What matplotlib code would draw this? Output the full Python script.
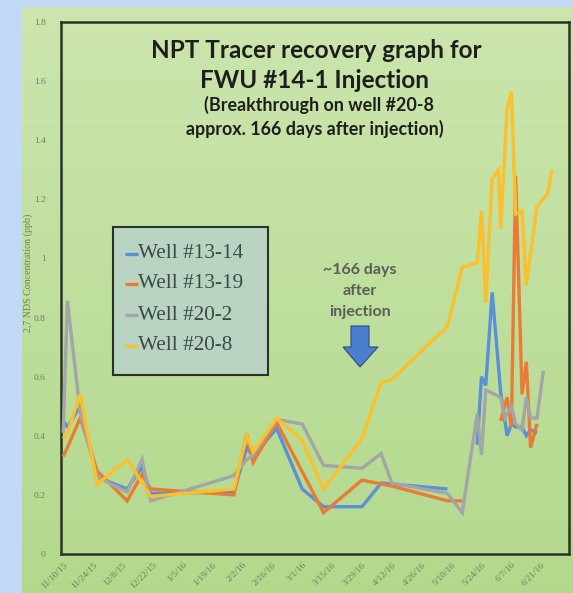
import numpy as np
import pandas as pd
import matplotlib
matplotlib.use("Agg")
import matplotlib.pyplot as plt
from matplotlib.patches import Polygon, Rectangle
from matplotlib.lines import Line2D

# ---- data -------------------------------------------------------------
dates_1314 = ["2015-11-10", "2015-11-12", "2015-11-18", "2015-11-26", "2015-12-10",
              "2015-12-17", "2015-12-21", "2016-01-29", "2016-02-04", "2016-02-07",
              "2016-02-18", "2016-03-01", "2016-03-11", "2016-03-29", "2016-04-07",
              "2016-05-08", "2016-05-15", "2016-05-22", "2016-05-24", "2016-05-26",
              "2016-05-29", "2016-06-02", "2016-06-05", "2016-06-07", "2016-06-09",
              "2016-06-12", "2016-06-14", "2016-06-16", "2016-06-19"]
well_1314 = [0.45, 0.43, 0.50, 0.26, 0.22, 0.295, 0.205, 0.21, 0.36, 0.33,
             0.425, 0.22, 0.16, 0.16, 0.24, 0.22, np.nan, 0.37, 0.60, 0.57,
             0.885, 0.545, 0.40, 0.44, 0.43, 0.43, 0.40, 0.42, 0.41]

dates_1319 = ["2015-11-10", "2015-11-12", "2015-11-18", "2015-11-26", "2015-12-10",
              "2015-12-17", "2015-12-21", "2016-01-29", "2016-02-04", "2016-02-07",
              "2016-02-18", "2016-03-11", "2016-03-29", "2016-04-12", "2016-05-08",
              "2016-05-15", "2016-05-25", "2016-06-02", "2016-06-05", "2016-06-07",
              "2016-06-09", "2016-06-12", "2016-06-14", "2016-06-16", "2016-06-19"]
well_1319 = [0.33, 0.36, 0.46, 0.28, 0.18, 0.27, 0.22, 0.20, 0.405, 0.31,
             0.445, 0.14, 0.25, 0.23, 0.18, 0.18, np.nan, 0.45, 0.53, 0.43,
             1.28, 0.54, 0.65, 0.36, 0.44]

dates_202 = ["2015-11-10", "2015-11-12", "2015-11-18", "2015-11-26", "2015-12-10",
             "2015-12-17", "2015-12-21", "2016-01-29", "2016-02-04", "2016-02-07",
             "2016-02-18", "2016-03-01", "2016-03-11", "2016-03-29", "2016-04-07",
             "2016-04-12", "2016-05-08", "2016-05-15", "2016-05-22", "2016-05-24",
             "2016-05-26", "2016-06-02", "2016-06-04", "2016-06-07", "2016-06-09",
             "2016-06-12", "2016-06-14", "2016-06-16", "2016-06-19", "2016-06-22"]
well_202 = [0.41, 0.856, 0.48, 0.26, 0.21, 0.32, 0.18, 0.265, 0.32, 0.335,
            0.455, 0.44, 0.30, 0.29, 0.34, 0.24, 0.205, 0.14, 0.475, 0.335,
            0.555, 0.53, 0.46, 0.50, 0.44, 0.42, 0.53, 0.46, 0.46, 0.62]

dates_208 = ["2015-11-10", "2015-11-12", "2015-11-18", "2015-11-26", "2015-12-10",
             "2015-12-21", "2016-01-29", "2016-02-04", "2016-02-07", "2016-02-18",
             "2016-03-01", "2016-03-11", "2016-03-29", "2016-04-07", "2016-04-12",
             "2016-05-08", "2016-05-15", "2016-05-22", "2016-05-24", "2016-05-26",
             "2016-05-29", "2016-06-01", "2016-06-02", "2016-06-05", "2016-06-07",
             "2016-06-09", "2016-06-12", "2016-06-14", "2016-06-19", "2016-06-24",
             "2016-06-26"]
well_208 = [0.39, 0.41, 0.54, 0.235, 0.32, 0.195, 0.22, 0.40, 0.345, 0.46,
            0.385, 0.22, 0.39, 0.58, 0.59, 0.77, 0.97, 0.985, 1.16, 0.85,
            1.27, 1.30, 1.10, 1.51, 1.565, 1.15, 1.16, 0.91, 1.175, 1.22,
            1.30]

series_names = ["Well #13-14", "Well #13-19", "Well #20-2", "Well #20-8"]
series_colors = ["#5B8FD8", "#EA7B34", "#A3A5A8", "#FBC02A"]

tick_dates = ["2015-11-10", "2015-11-24", "2015-12-08", "2015-12-22", "2016-01-05",
              "2016-01-19", "2016-02-02", "2016-02-16", "2016-03-01", "2016-03-15",
              "2016-03-29", "2016-04-12", "2016-04-26", "2016-05-10", "2016-05-24",
              "2016-06-07", "2016-06-21"]
tick_labels = ["11/10/15", "11/24/15", "12/8/15", "12/22/15", "1/5/16", "1/19/16",
               "2/2/16", "2/16/16", "3/1/16", "3/15/16", "3/29/16", "4/12/16",
               "4/26/16", "5/10/16", "5/24/16", "6/7/16", "6/21/16"]
y_ticks = [0, 0.2, 0.4, 0.6, 0.8, 1, 1.2, 1.4, 1.6, 1.8]
y_tick_labels = ["0", "0.2", "0.4", "0.6", "0.8", "1", "1.2", "1.4", "1.6", "1.8"]

# ---- figure & background ---------------------------------------------
W, H = 573, 593
fig = plt.figure(figsize=(W / 100, H / 100), dpi=100)
fig.patch.set_facecolor("#c2d9f5")

def fx(px):
    return px / W

def fy(py):
    return 1 - py / H

bg = fig.add_axes([fx(22), 0, 1 - fx(22), fy(7)])
grad = np.linspace(0, 1, 256)[:, None]
top = np.array([0.80, 0.90, 0.68])
bot = np.array([0.70, 0.85, 0.55])
img = top[None, None, :] * (1 - grad[:, :, None]) + bot[None, None, :] * grad[:, :, None]
bg.imshow(img, aspect="auto", extent=[0, 1, 0, 1], origin="upper")
bg.set_axis_off()

ax = fig.add_axes([fx(61), fy(554), fx(569) - fx(61), fy(22) - fy(554)])
ax.set_facecolor("none")

all_dates = [dates_1314, dates_1319, dates_202, dates_208]
all_vals = [well_1314, well_1319, well_202, well_208]
for d, v, c in zip(all_dates, all_vals, series_colors):
    ax.plot(pd.to_datetime(d), v, color=c, lw=2.4, solid_joinstyle="miter",
            solid_capstyle="butt", zorder=3)

ax.set_xlim(pd.Timestamp("2015-11-09"), pd.Timestamp("2016-07-04"))
ax.set_ylim(0, 1.8)
ax.set_xticks(pd.to_datetime(tick_dates))
ax.set_xticklabels(tick_labels, rotation=45, ha="right", va="top",
                   rotation_mode="anchor", fontsize=6.8, family="Liberation Serif",
                   color="#6f7f62")
ax.set_yticks(y_ticks)
ax.set_yticklabels(y_tick_labels, fontsize=6.8, family="Liberation Serif",
                   color="#6f7f62")
ax.tick_params(axis="both", length=0)
ax.tick_params(axis="y", pad=11)
ax.tick_params(axis="x", pad=5)
for s in ax.spines.values():
    s.set_color("#2a3327")
    s.set_linewidth(1.8)

fig.text(fx(28.5), fy(273), "2,7 NDS Concentration (ppb)", rotation=90,
         ha="center", va="center", fontsize=7.2, family="Liberation Serif",
         color="#6f7f62")

# ---- titles -----------------------------------------------------------
tfont = "Lato"
fig.text(fx(316), fy(51), "NPT Tracer recovery graph for", ha="center", va="center",
         fontsize=17.5, fontweight="bold", family=tfont, color="#1e1e1e")
fig.text(fx(315), fy(81), "FWU #14-1 Injection", ha="center", va="center",
         fontsize=17.5, fontweight="bold", family=tfont, color="#1e1e1e")
fig.text(fx(319), fy(105), "(Breakthrough on well #20-8", ha="center", va="center",
         fontsize=12.9, fontweight="bold", family=tfont, color="#1e1e1e")
fig.text(fx(315), fy(129), "approx. 166 days after injection)", ha="center",
         va="center", fontsize=12.9, fontweight="bold", family=tfont, color="#1e1e1e")

# ---- annotation -------------------------------------------------------
for txt, py in [("~166 days", 270), ("after", 291), ("injection", 312)]:
    fig.text(fx(360), fy(py), txt, ha="center", va="center", fontsize=11.5,
             fontweight="bold", family=tfont, color="#5a5d58")

arrow_px = [(351, 326), (369, 326), (369, 347), (378, 347), (360, 367),
            (343, 347), (351, 347)]
fig.patches.append(Polygon([(fx(x), fy(y)) for x, y in arrow_px], closed=True,
                           transform=fig.transFigure, facecolor="#4a7fcf",
                           edgecolor="#2d4d7e", lw=0.8, zorder=5))

# ---- legend box -------------------------------------------------------
box_l, box_t, box_r, box_b = 113, 227, 268, 375
fig.patches.append(Rectangle((fx(box_l), fy(box_b)), fx(box_r) - fx(box_l),
                             fy(box_t) - fy(box_b), transform=fig.transFigure,
                             facecolor="#bad4c4", edgecolor="#2a3327", lw=1.5,
                             zorder=6))
row_y = [254, 284, 315, 346]
for name, color, ry in zip(series_names, series_colors, row_y):
    fig.lines.append(Line2D([fx(125), fx(138)], [fy(ry), fy(ry)],
                            transform=fig.transFigure, color=color, lw=2.4,
                            solid_capstyle="butt", zorder=7))
    fig.text(fx(138.5), fy(ry), name, ha="left", va="center", fontsize=15.3,
             family="Liberation Serif", color="#3c4a44", zorder=7)

fig.savefig("out.png", dpi=100, facecolor=fig.get_facecolor())
